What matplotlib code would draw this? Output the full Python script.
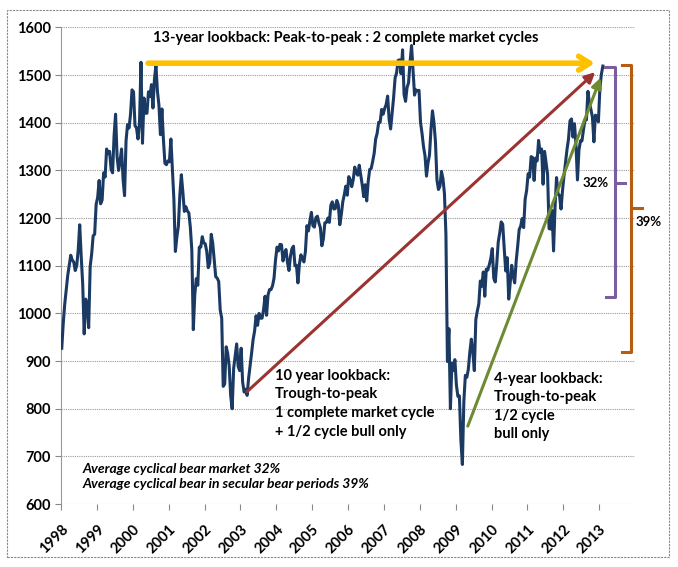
import numpy as np
import matplotlib.pyplot as plt

# S&P 500, two readings per month (mid-month, month-end)
spx_1998 = [927, 980, 1020, 1049, 1080, 1101, 1122, 1112, 1108, 1090, 1100, 1133,
            1186, 1120, 1062, 957, 1030, 1017, 970, 1098, 1125, 1163, 1166, 1229]
spx_1999 = [1243, 1279, 1230, 1238, 1295, 1286, 1345, 1335, 1340, 1302, 1295, 1373,
            1418, 1329, 1300, 1320, 1345, 1282, 1247, 1362, 1396, 1389, 1418, 1469]
spx_2000 = [1465, 1394, 1389, 1366, 1400, 1527, 1357, 1452, 1420, 1420, 1465, 1455,
            1480, 1431, 1491, 1520, 1466, 1437, 1375, 1429, 1365, 1315, 1312, 1320]
spx_2001 = [1318, 1366, 1301, 1240, 1130, 1160, 1183, 1249, 1291, 1255, 1214, 1224,
            1215, 1211, 1181, 1133, 966, 1040, 1073, 1059, 1139, 1139, 1161, 1148]
spx_2002 = [1146, 1130, 1096, 1106, 1166, 1147, 1111, 1077, 1074, 1067, 1007, 990,
            847, 852, 930, 916, 890, 827, 800, 885, 910, 936, 889, 880]
spx_2003 = [927, 856, 835, 841, 828, 864, 890, 917, 945, 963, 995, 975,
            1000, 990, 990, 1008, 1036, 996, 1039, 1050, 1050, 1058, 1074, 1112]
spx_2004 = [1139, 1131, 1145, 1144, 1110, 1126, 1134, 1107, 1090, 1120, 1136, 1141,
            1100, 1101, 1064, 1104, 1123, 1115, 1108, 1130, 1184, 1173, 1194, 1212]
spx_2005 = [1184, 1181, 1201, 1204, 1190, 1180, 1142, 1156, 1190, 1191, 1200, 1191,
            1227, 1234, 1219, 1220, 1237, 1228, 1186, 1207, 1234, 1249, 1267, 1248]
spx_2006 = [1287, 1280, 1266, 1281, 1307, 1295, 1290, 1311, 1291, 1270, 1245, 1270,
            1236, 1277, 1302, 1304, 1319, 1336, 1366, 1378, 1401, 1401, 1428, 1418]
spx_2007 = [1430, 1438, 1456, 1407, 1387, 1421, 1453, 1494, 1505, 1531, 1532, 1503,
            1553, 1459, 1445, 1474, 1484, 1527, 1562, 1509, 1458, 1469, 1467, 1468]
spx_2008 = [1401, 1378, 1350, 1331, 1288, 1316, 1332, 1386, 1425, 1400, 1360, 1280,
            1260, 1267, 1298, 1283, 1252, 1166, 899, 968, 800, 896, 880, 903]
spx_2009 = [850, 826, 827, 735, 683, 816, 870, 866, 883, 919, 946, 919,
            880, 987, 1005, 1020, 1068, 1057, 1087, 1036, 1093, 1091, 1102, 1115]
spx_2010 = [1136, 1074, 1066, 1104, 1150, 1169, 1192, 1187, 1136, 1089, 1117, 1030,
            1064, 1101, 1079, 1064, 1110, 1141, 1176, 1183, 1199, 1180, 1240, 1258]
spx_2011 = [1293, 1286, 1329, 1327, 1279, 1326, 1320, 1363, 1338, 1345, 1271, 1340,
            1316, 1292, 1178, 1177, 1216, 1131, 1224, 1285, 1251, 1247, 1219, 1258]
spx_2012 = [1289, 1316, 1344, 1366, 1404, 1408, 1370, 1398, 1353, 1280, 1343, 1362,
            1362, 1385, 1406, 1406, 1466, 1441, 1428, 1412, 1360, 1416, 1413, 1402]
spx_2013 = [1472, 1502, 1519]

years = list(range(1998, 2014))
yearly = [spx_1998, spx_1999, spx_2000, spx_2001, spx_2002, spx_2003, spx_2004, spx_2005,
          spx_2006, spx_2007, spx_2008, spx_2009, spx_2010, spx_2011, spx_2012, spx_2013]

t = np.concatenate([yr + (np.arange(len(v)) + 0.5) / 24 for yr, v in zip(years, yearly)])
spx = np.concatenate([np.array(v, dtype=float) for v in yearly])

navy = "#1B3A63"
gold = "#FFC000"
red = "#9B3431"
green = "#6E8B34"
purple = "#7A5FA0"
orange = "#B85C12"

plt.rcParams['font.family'] = ['Lato', 'DejaVu Sans']

fig = plt.figure(figsize=(6.78, 5.67), dpi=100)
ax = fig.add_axes([0.090, 0.111, 0.8466, 0.8406])

ax.plot(t, spx, color=navy, lw=2.2, zorder=3)

ax.set_xlim(1998, 2014)
ax.set_ylim(600, 1600)
ax.set_xticks(years)
ax.set_xticklabels([str(y) for y in years], rotation=45, ha='right',
                   rotation_mode='anchor', fontsize=10.5, fontweight='bold')
ax.set_yticks(np.arange(600, 1601, 100))
ax.set_yticklabels([str(v) for v in range(600, 1601, 100)], fontsize=10.5, fontweight='bold')
ax.tick_params(axis='both', colors='#888888', labelcolor='black', length=4, width=0.8)
ax.tick_params(axis='x', pad=9)

ax.grid(axis='y', color='#999999', linestyle=(0, (1, 1)), lw=0.8)
for s in ['top', 'right', 'bottom']:
    ax.spines[s].set_visible(False)
ax.spines['left'].set_color('#999999')

# lookback arrows
ax.annotate('', xy=(2012.96, 1525), xytext=(2000.35, 1525),
            arrowprops=dict(arrowstyle='->,head_length=0.8,head_width=0.5',
                            color=gold, lw=4), zorder=4)
ax.annotate('', xy=(2012.95, 1510), xytext=(2003.13, 832),
            arrowprops=dict(arrowstyle='-|>,head_length=0.6,head_width=0.3',
                            color=red, lw=2.2), zorder=4)
ax.annotate('', xy=(2013.07, 1500), xytext=(2009.31, 758),
            arrowprops=dict(arrowstyle='-|>,head_length=0.6,head_width=0.3',
                            color=green, lw=2.2), zorder=4)

# drawdown brackets
ax.plot([2013.15, 2013.43, 2013.43, 2013.2], [1517, 1517, 1034, 1034],
        color=purple, lw=2.2, clip_on=False, zorder=4)
ax.plot([2013.43, 2013.71], [1273, 1273], color=purple, lw=2.2, clip_on=False)
ax.plot([2013.65, 2013.9, 2013.9, 2013.65], [1521, 1521, 920, 920],
        color=orange, lw=2.2, clip_on=False, zorder=4)
ax.plot([2013.9, 2014.2], [1221, 1221], color=orange, lw=2.2, clip_on=False)

ax.text(2012.90, 1273, '32%', fontsize=9.5, fontweight='bold', ha='center', va='center')
ax.text(2014.37, 1191, '39%', fontsize=9.5, fontweight='bold', ha='center', va='center',
        clip_on=False)

ax.text(2000.55, 1577, '13-year lookback: Peak-to-peak : 2 complete market cycles',
        fontsize=10.5, fontweight='bold', va='center')
ax.text(2003.96, 884, '10 year lookback:\nTrough-to-peak\n1 complete market cycle\n+ 1/2 cycle bull only',
        fontsize=10.5, fontweight='bold', va='top', linespacing=1.42)
ax.text(2010.06, 878, '4-year lookback:\nTrough-to-peak\n1/2 cycle\nbull only',
        fontsize=10.5, fontweight='bold', va='top', linespacing=1.42)
ax.text(1998.6, 686, 'Average cyclical bear market 32%\nAverage cyclical bear in secular bear periods 39%',
        fontsize=10, fontweight='bold', style='italic', va='top', linespacing=1.25)

# chart border
fig.patches.append(plt.Rectangle((0.011, 0.017), 0.976, 0.965, transform=fig.transFigure,
                                 fill=False, ec='#888888', lw=0.8, ls=(0, (2, 1))))

fig.savefig('out.png', dpi=100)
